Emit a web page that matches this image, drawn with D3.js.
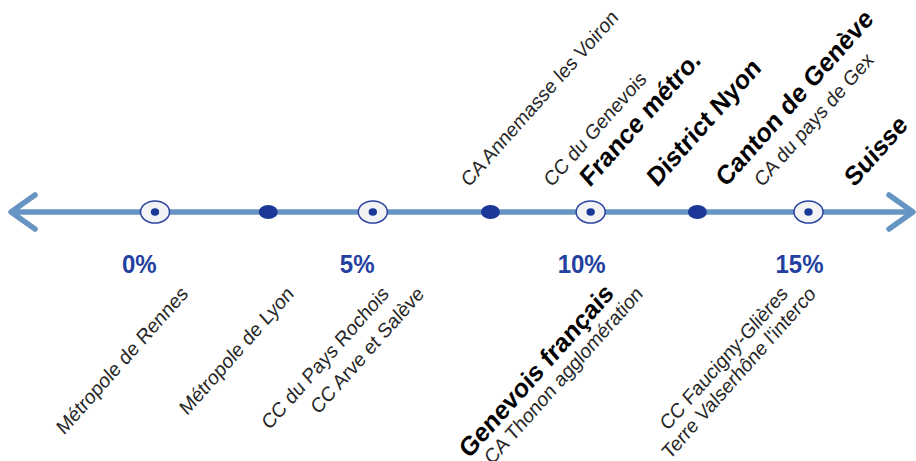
<!DOCTYPE html>
<html>
<head>
<meta charset="utf-8">
<script src="https://d3js.org/d3.v7.min.js"></script>
<style>
  body { margin: 0; background: #fff; }
  svg { display: block; font-family: Arial, "Liberation Sans", sans-serif; }
</style>
</head>
<body>
<svg id="drawing_region"></svg>
<script>
// axis ticks (percent)
const tickValues = [0, 5, 10, 15];
const tickLabels = ["0%", "5%", "10%", "15%"];
const minorValues = [2.6, 7.7, 12.45];

// territories shown above the line
const aboveNames = ["CA Annemasse les Voiron", "CC du Genevois", "France métro.", "District Nyon",
                    "Canton de Genève", "CA du pays de Gex", "Suisse"];
const aboveValues = [7.2, 9.1, 9.98, 11.52, 13.1, 13.93, 16.05];
const aboveBold = [false, false, true, true, true, false, true];

// territories shown below the line
const belowNames = ["Métropole de Rennes", "Métropole de Lyon", "CC du Pays Rochois", "CC Arve et Salève",
                    "Genevois français", "CA Thonon agglomération", "CC Faucigny-Glières", "Terre Valserhône l'interco"];
const belowValues = [0.78, 3.21, 5.39, 6.2, 10.56, 11.22, 14.55, 15.19];
const belowBold = [false, false, false, false, true, false, false, false];

const config = {
    width: 916,
    height: 461,
    axisY: 212,
    left: 11,
    right: 913,
    stretch: 1.125
};

const svg = d3.select('#drawing_region')
    .attr('width', config.width)
    .attr('height', config.height);

const xscale = d3.scaleLinear()
    .domain([0, 15])
    .range([155, 808.5]);

const lineColor = '#6795c3';
const dark = '#1b3898';

// main line with open arrow heads
svg.append('line')
    .attr('x1', config.left + 2).attr('x2', config.right - 2)
    .attr('y1', config.axisY).attr('y2', config.axisY)
    .attr('stroke', lineColor)
    .attr('stroke-width', 5.5);

const arrow = d3.line();
svg.append('path')
    .attr('d', arrow([[config.left + 24, config.axisY - 17], [config.left, config.axisY], [config.left + 24, config.axisY + 17]]))
    .attr('fill', 'none').attr('stroke', lineColor).attr('stroke-width', 5.5)
    .attr('stroke-linecap', 'round').attr('stroke-linejoin', 'round');
svg.append('path')
    .attr('d', arrow([[config.right - 24, config.axisY - 17], [config.right, config.axisY], [config.right - 24, config.axisY + 17]]))
    .attr('fill', 'none').attr('stroke', lineColor).attr('stroke-width', 5.5)
    .attr('stroke-linecap', 'round').attr('stroke-linejoin', 'round');

// minor ticks: filled dots
svg.selectAll('.minor')
    .data(minorValues)
    .enter()
    .append('ellipse')
    .attr('class', 'minor')
    .attr('cx', d => xscale(d))
    .attr('cy', config.axisY)
    .attr('rx', 9.5).attr('ry', 7)
    .attr('fill', dark);

// major ticks: ring + dot
const major = svg.selectAll('.major')
    .data(tickValues)
    .enter()
    .append('g')
    .attr('class', 'major')
    .attr('transform', d => `translate(${xscale(d)}, ${config.axisY})`);

major.append('ellipse')
    .attr('rx', 14.5).attr('ry', 11)
    .attr('fill', '#f3f3f6')
    .attr('stroke', '#2a44a2')
    .attr('stroke-width', 1.5);

major.append('ellipse')
    .attr('rx', 4.2).attr('ry', 3.8)
    .attr('fill', dark);

svg.selectAll('.tick-label')
    .data(tickValues)
    .enter()
    .append('text')
    .attr('class', 'tick-label')
    .attr('transform', d => `translate(${xscale(d) - 33}, 273) scale(1, 1.06)`)
    .attr('font-size', 24)
    .attr('font-weight', 'bold')
    .attr('fill', '#2440a0')
    .text((d, i) => tickLabels[i]);

// rotated labels
const above = aboveNames.map((n, i) => ({ name: n, value: aboveValues[i], bold: aboveBold[i] }));
const below = belowNames.map((n, i) => ({ name: n, value: belowValues[i], bold: belowBold[i] }));

svg.selectAll('.above')
    .data(above)
    .enter()
    .append('text')
    .attr('class', 'above')
    .attr('transform', d => `translate(${xscale(d.value)}, 188) scale(1, ${config.stretch}) rotate(-45)`)
    .attr('text-anchor', 'start')
    .attr('font-size', d => d.bold ? 24 : 18.5)
    .attr('font-weight', d => d.bold ? 'bold' : 'normal')
    .attr('fill', d => d.bold ? '#000' : '#262626')
    .text(d => d.name);

svg.selectAll('.below')
    .data(below)
    .enter()
    .append('text')
    .attr('class', 'below')
    .attr('transform', d => `translate(${xscale(d.value)}, 295) scale(1, ${config.stretch}) rotate(-45)`)
    .attr('text-anchor', 'end')
    .attr('font-size', d => d.bold ? 24 : 18.5)
    .attr('font-weight', d => d.bold ? 'bold' : 'normal')
    .attr('fill', d => d.bold ? '#000' : '#262626')
    .text(d => d.name);
</script>
</body>
</html>
